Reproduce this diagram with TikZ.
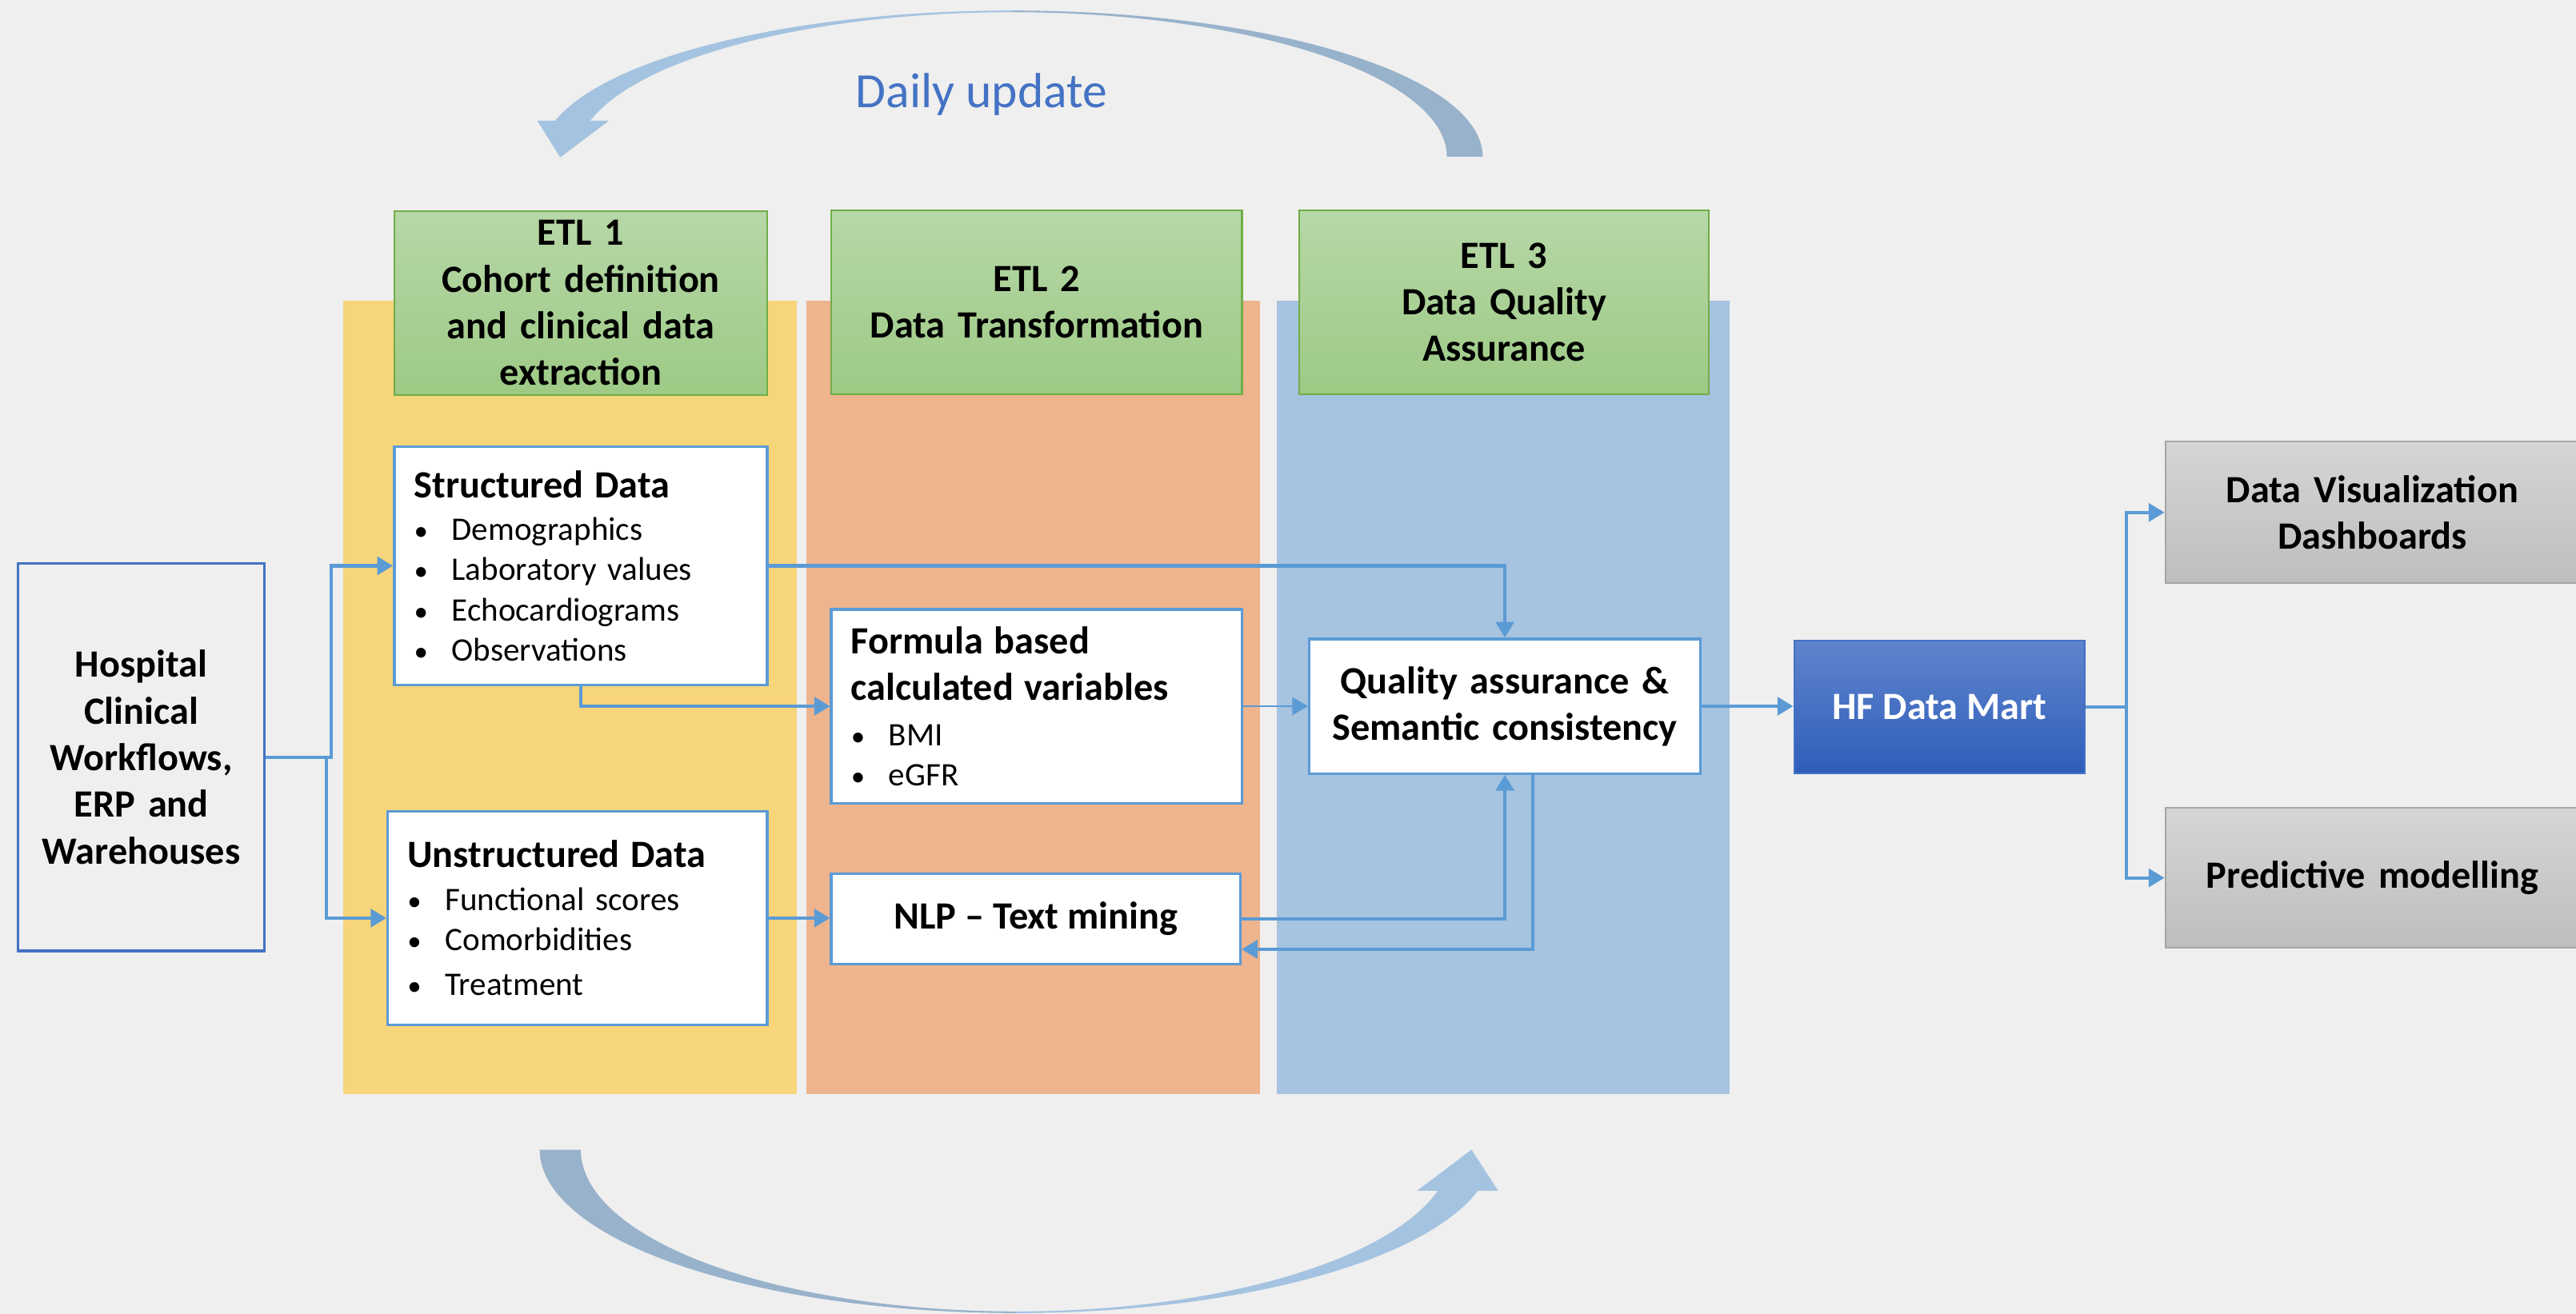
\documentclass[tikz,border=0pt]{standalone}
\usepackage{fontspec}
\setmainfont{Carlito}
\usetikzlibrary{arrows.meta,calc}

\definecolor{bgc}{RGB}{239,239,239}
\definecolor{colY}{RGB}{247,213,122}
\definecolor{colO}{RGB}{237,180,142}
\definecolor{colB}{RGB}{166,195,224}
\definecolor{grnT}{RGB}{183,215,167}
\definecolor{grnB}{RGB}{157,202,133}
\definecolor{grnL}{RGB}{112,173,71}
\definecolor{lnB}{RGB}{91,155,213}
\definecolor{dkB}{RGB}{68,114,196}
\definecolor{hfT}{RGB}{96,133,205}
\definecolor{hfB}{RGB}{46,93,186}
\definecolor{gryT}{RGB}{213,213,213}
\definecolor{gryB}{RGB}{190,190,190}
\definecolor{gryL}{RGB}{165,165,165}
\definecolor{arcL}{RGB}{164,195,224}
\definecolor{arcD}{RGB}{152,178,203}

\newcommand{\bul}[1]{\makebox[11.5pt][l]{\scalebox{0.85}{•}}#1}

\tikzset{
  bfont/.style={font=\bfseries\fontsize{11.75}{14.2}\selectfont},
  etlbox/.style={draw=grnL, line width=0.5pt, top color=grnT, bottom color=grnB,
    bfont, align=center, inner sep=0pt, minimum height=56pt},
  whitebox/.style={draw=lnB, line width=0.8pt, fill=white, inner sep=0pt},
  listbox/.style={whitebox, inner xsep=6pt, align=left,
    font=\fontsize{10}{12.25}\selectfont},
  graybox/.style={draw=gryL, line width=0.5pt, top color=gryT, bottom color=gryB,
    bfont, align=center, inner sep=0pt},
  conn/.style={draw=lnB, line width=1pt, -{Triangle[length=4.8pt,width=5.5pt]}},
}

\begin{document}
\begin{tikzpicture}[x=0.5pt,y=-0.5pt]
\useasboundingbox (0,0) rectangle (1568,800);
\fill[bgc] (0,0) rectangle (1568,800);

% columns
\fill[colY] (209,183) rectangle (485,666);
\fill[colO] (491,183) rectangle (767,666);
\fill[colB] (777,183) rectangle (1053,666);

% daily update arcs
\fill[arcD] plot[domain=0:90,samples=60,variable=\t] ({615.8+286.7*cos(\t)},{95.4-89*sin(\t)})
  -- plot[domain=90:0,samples=60,variable=\t] ({615.8+264.9*cos(\t)},{95.4-88*sin(\t)}) -- cycle;
\fill[arcL] plot[domain=90:165.7,samples=60,variable=\t] ({615.8+286.7*cos(\t)},{95.4-89*sin(\t)})
  -- plot[domain=165.7:90,samples=60,variable=\t] ({615.8+264.9*cos(\t)},{95.4-88*sin(\t)}) -- cycle;
\fill[arcL] (327,73.4) -- (370.8,73.4) -- (341,95.8) -- cycle;

\fill[arcD] plot[domain=90:180,samples=60,variable=\t] ({618.7+290.2*cos(\t)},{700+99.5*sin(\t)})
  -- plot[domain=180:90,samples=60,variable=\t] ({618.7+265.2*cos(\t)},{700+98.5*sin(\t)}) -- cycle;
\fill[arcL] plot[domain=14.55:90,samples=60,variable=\t] ({618.7+290.2*cos(\t)},{700+99.5*sin(\t)})
  -- plot[domain=90:14.55,samples=60,variable=\t] ({618.7+265.2*cos(\t)},{700+98.5*sin(\t)}) -- cycle;
\fill[arcL] (862.6,725) -- (911.9,725) -- (895.7,700) -- cycle;

\node[text=dkB, font=\fontsize{15}{18}\selectfont, anchor=base] (daily) at (597.5,65.7) {Daily update};

% ETL headers
\node[etlbox, minimum width=113.5pt, text width=110pt] (etl1) at (353.5,184.5)
  {ETL 1\\Cohort definition\\and clinical data\\extraction};
\node[etlbox, minimum width=125pt, text width=122pt] (etl2) at (631,184)
  {ETL 2\\Data Transformation};
\node[etlbox, minimum width=124.5pt, text width=121pt] (etl3) at (915.5,184)
  {ETL 3\\Data Quality\\Assurance};

% source
\node[draw=dkB, line width=0.8pt, bfont, align=center, inner sep=0pt,
  minimum width=75pt, minimum height=118pt, text width=72pt] (hosp) at (86,461)
  {Hospital\\Clinical\\Workflows,\\ERP and\\Warehouses};

% ETL1 boxes
\node[listbox, minimum width=113.5pt, minimum height=72.5pt, text width=101.5pt] (struct) at (353.5,344.5)
  {{\bfseries\fontsize{11.75}{14}\selectfont Structured Data}\\[0.75pt]
   \bul{Demographics}\\\bul{Laboratory values}\\\bul{Echocardiograms}\\\bul{Observations}};
\node[listbox, minimum width=115.5pt, minimum height=65pt, text width=103.5pt] (unstruct) at (351.5,559)
  {{\bfseries\fontsize{11.75}{14}\selectfont Unstructured Data}\\[0.75pt]
   \bul{Functional scores}\\\bul{Comorbidities}\\[1.5pt]\bul{Treatment}};

% ETL2 boxes
\node[listbox, minimum width=125pt, minimum height=59pt, text width=113pt] (formula) at (631,430)
  {{\bfseries\fontsize{11.75}{14}\selectfont Formula based}\\[2pt]
   {\bfseries\fontsize{11.75}{14}\selectfont calculated variables}\\[1.5pt]
   \bul{BMI}\\\bul{eGFR}};
\node[whitebox, bfont, minimum width=124.5pt, minimum height=27.5pt] (nlp) at (630.5,559.5)
  {NLP -- Text mining};

% ETL3 box
\node[whitebox, bfont, align=center, minimum width=119pt, minimum height=41pt, text width=116pt] (qa) at (916,430)
  {Quality assurance \&\\Semantic consistency};

% data mart
\node[draw=dkB, line width=0.5pt, top color=hfT, bottom color=hfB, text=white, bfont,
  inner sep=0pt, minimum width=88.5pt, minimum height=40.5pt] (hf) at (1180.5,430.5) {HF Data Mart};

% outputs
\node[graybox, minimum width=126pt, minimum height=43pt, text width=120pt] (dash) at (1444,312)
  {Data Visualization\\Dashboards};
\node[graybox, minimum width=126pt, minimum height=42.5pt, text width=120pt] (pred) at (1444,534.5)
  {Predictive modelling};

% connectors
\draw[conn] (hosp.east) -- ++(40,0) |- (struct.west);
\draw[conn] (hosp.east) -- ++(37,0) |- (unstruct.west);
\draw[conn] (struct.east) -| (qa.north);
\draw[conn] (struct.south) |- (formula.west);
\draw[conn, line width=0.4pt] (formula.east) -- (formula.east -| qa.west);
\draw[conn] (unstruct.east) -- (unstruct.east -| nlp.west);
\draw[conn] (nlp.east) -| (qa.south);
\draw[conn] ($(qa.south)+(17,0)$) |- ($(nlp.east)+(0,18.5)$);
\draw[conn] (qa.east) -- (qa.east -| hf.west);
\draw[conn] (hf.east) -- ++(25,0) |- (dash.west);
\draw[conn] (hf.east) -- ++(25,0) |- (pred.west);
\end{tikzpicture}
\end{document}
